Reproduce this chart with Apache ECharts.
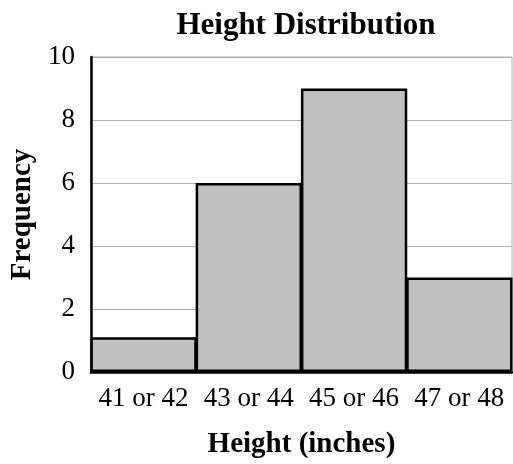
<!DOCTYPE html>
<html>
<head>
<meta charset="utf-8">
<script src="https://cdn.jsdelivr.net/npm/echarts@6/dist/echarts.min.js"></script>
<style>html,body{margin:0;padding:0;background:#fff;}#c{width:513px;height:464px;}</style>
</head>
<body>
<div id="c"></div>
<script>
const categories = ['41 or 42', '43 or 44', '45 or 46', '47 or 48'];
const frequency = [1.1, 6, 9, 3];
const yTicks = [0, 2, 4, 6, 8, 10];

const FONT = '"Liberation Serif", "Times New Roman", serif';
const chart = echarts.init(document.getElementById('c'), null, {renderer: 'canvas'});
chart.setOption({
  animation: false,
  backgroundColor: '#fff',
  title: {
    text: 'Height Distribution',
    left: 301, top: 5, textAlign: 'center',
    textStyle: {fontFamily: FONT, fontWeight: 'bold', fontSize: 31, color: '#000'}
  },
  grid: {left: 90, right: 1, top: 57, bottom: 90, show: true, borderColor: '#b0b0b0', borderWidth: 1},
  xAxis: {
    type: 'category',
    data: categories,
    name: 'Height (inches)',
    nameLocation: 'middle',
    nameGap: 58,
    nameTextStyle: {fontFamily: FONT, fontWeight: 'bold', fontSize: 29, color: '#000'},
    axisLine: {show: true, lineStyle: {color: '#000', width: 2.5}},
    axisTick: {show: false},
    axisLabel: {fontFamily: FONT, fontSize: 27, color: '#000', margin: 13, interval: 0},
    splitLine: {show: false}
  },
  yAxis: {
    type: 'value',
    min: yTicks[0], max: yTicks[yTicks.length - 1], interval: 2,
    name: 'Frequency',
    nameLocation: 'middle',
    nameGap: 50,
    nameRotate: 90,
    nameTextStyle: {fontFamily: FONT, fontWeight: 'bold', fontSize: 29, color: '#000'},
    axisLine: {show: true, lineStyle: {color: '#000', width: 2.5}},
    axisTick: {show: false},
    axisLabel: {fontFamily: FONT, fontSize: 27, color: '#000', margin: 16},
    splitLine: {show: true, lineStyle: {color: '#b0b0b0', width: 1}}
  },
  series: [{
    type: 'bar',
    data: frequency,
    barWidth: '101%',
    itemStyle: {color: '#c0c0c0', borderColor: '#000', borderWidth: 2.5}
  }]
});
</script>
</body>
</html>
